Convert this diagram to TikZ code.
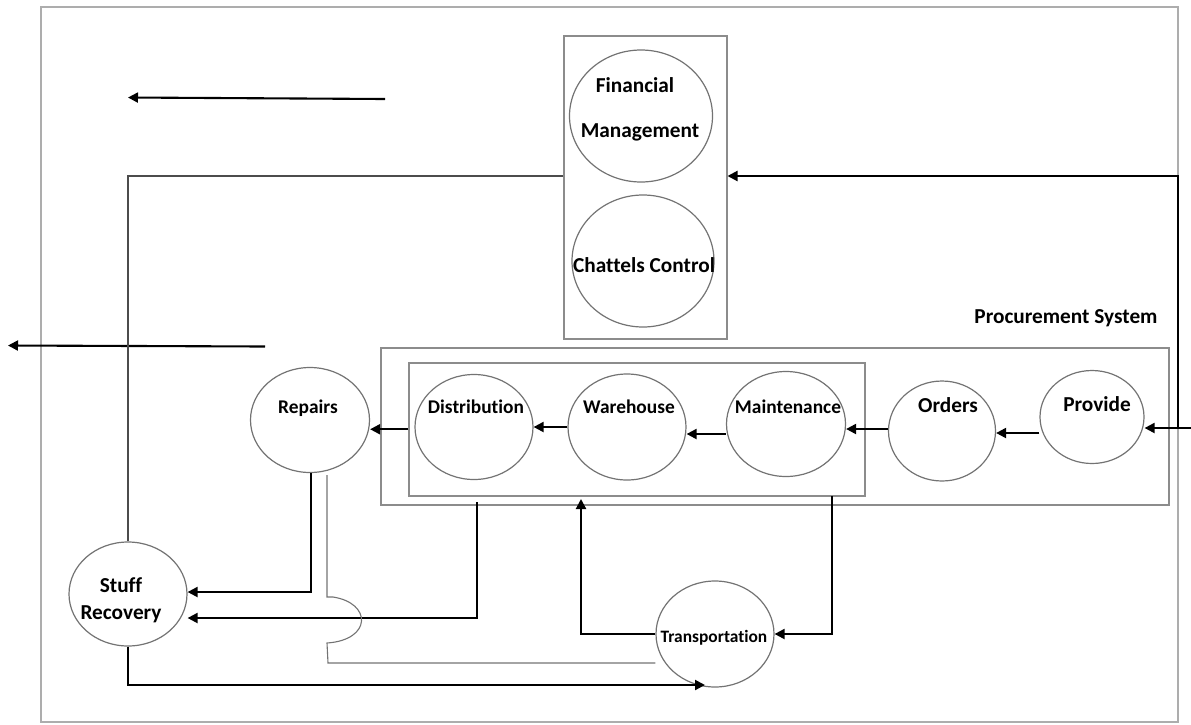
\documentclass[tikz,border=0pt]{standalone}
\usepackage{fontspec}
\setmainfont{Carlito}[Ligatures={NoCommon}]
\usetikzlibrary{shapes.geometric,arrows.meta}
\begin{document}
\begin{tikzpicture}[x=1pt,y=-1pt,
  frame/.style={rectangle,draw=black!32,line width=1.8pt,inner sep=0pt},
  box/.style={rectangle,draw=black!45,line width=1.5pt,inner sep=0pt},
  bub/.style={ellipse,draw=black!55,line width=1.2pt,inner sep=0pt},
  lbl/.style={font=\bfseries\fontsize{21.3}{24}\selectfont,inner sep=0pt,anchor=base},
  lblm/.style={font=\bfseries\fontsize{19.4}{22}\selectfont,inner sep=0pt,anchor=base},
  lbls/.style={font=\bfseries\fontsize{17.4}{20}\selectfont,inner sep=0pt,anchor=base},
  flow/.style={draw=black,line width=2.1pt,-{Triangle[length=10pt,width=10pt]}},
  thinline/.style={draw=black!70,line width=1.2pt},
  greyline/.style={draw=black!55,line width=1.1pt},
]
\useasboundingbox (0,0) rectangle (1191,724);
% frame and boxes
\node[frame,minimum width=1137,minimum height=715,anchor=north west] (frame) at (40,6) {};
\node[box,minimum width=163,minimum height=303,anchor=north west] (fbox) at (563,35) {};
\node[box,minimum width=788,minimum height=157,anchor=north west] (pouter) at (380,347) {};
\node[box,minimum width=456,minimum height=133,anchor=north west] (pinner) at (408,362) {};
% bubbles
\node[bub,minimum width=143,minimum height=132] (fin) at (641,116) {};
\node[bub,minimum width=142,minimum height=132] (cha) at (643,261) {};
\node[bub,minimum width=119,minimum height=105] (rep) at (310,420) {};
\node[bub,minimum width=118,minimum height=105] (dis) at (474,427) {};
\node[bub,minimum width=118,minimum height=106] (war) at (627,427) {};
\node[bub,minimum width=119,minimum height=105] (mai) at (786,424) {};
\node[bub,minimum width=107,minimum height=100] (ord) at (942,431) {};
\node[bub,minimum width=104,minimum height=93] (pro) at (1092,417) {};
\node[bub,minimum width=118,minimum height=106] (tra) at (715,634) {};
\node[bub,minimum width=118,minimum height=104] (stu) at (128,594) {};
% labels
\node[lbl] (tfin1) at (635,92) {Financial};
\node[lbl] (tfin2) at (640,137) {Management};
\node[lbl] (tcha) at (644,272) {Chattels Control};
\node[lbl] (tproc) at (1066,323) {Procurement System};
\node[lblm] (trep) at (308,413) {Repairs};
\node[lblm] (tdis) at (476,413) {Distribution};
\node[lblm] (twar) at (629,413) {Warehouse};
\node[lblm] (tmai) at (788,413) {Maintenance};
\node[lbl] (tord) at (948,412) {Orders};
\node[lbl] (tpro) at (1097,411) {Provide};
\node[lbls] (ttra) at (714,642) {Transportation};
\node[lbl] (tstu1) at (121,592) {Stuff};
\node[lbl] (tstu2) at (121,619) {Recovery};
% free arrows at the left
\coordinate (a1s) at (385,99);
\coordinate (a1e) at (128,97.5);
\draw[flow] (a1s) -- (a1e);
\coordinate (a2s) at (265,346.5);
\coordinate (a2e) at (8,345.5);
\draw[flow] (a2s) -- (a2e);
% chain inside procurement system
\coordinate (rin) at (1191,428);
\coordinate (rj) at (1178,428);
\draw[flow] (rin) -- (pro.east |- rin);
\draw[flow] (rj) |- (fbox.east |- 0,176);
\draw[flow] (pro.west |- 0,433) -- (ord.east |- 0,433);
\draw[flow] (ord.west |- 0,429) -- (mai.east |- 0,429);
\draw[flow] (mai.west |- 0,434) -- (war.east |- 0,434);
\draw[flow] (war.west) -- (dis.east);
\draw[flow] (pinner.west) -- (rep.east |- pinner.west);
% financial to stuff recovery
\draw[thinline] (fbox.west |- 0,176) -| (stu.north);
% repairs and distribution to stuff recovery
\draw[flow] (rep.south -| 311,0) |- (stu.east |- 0,592);
\coordinate (dd) at (477,502);
\draw[flow] (dd) |- (stu.east |- 0,618);
% thin line with jump to transportation
\coordinate (jt) at (327,475);
\draw[greyline] (jt) -- (327,597) -- (333,597)
  .. controls (372,603) and (372,640) .. (327,643) -- (328,663) -- (tra.west |- 0,663);
% stuff recovery to transportation
\coordinate (ta) at (705,685);
\draw[flow] (stu.south) |- (ta);
% transportation to warehouse
\coordinate (wup) at (581,499);
\draw[flow] (tra.west) -| (wup);
% maintenance to transportation
\coordinate (md) at (832,496);
\draw[flow] (md) |- (tra.east);
\end{tikzpicture}
\end{document}
